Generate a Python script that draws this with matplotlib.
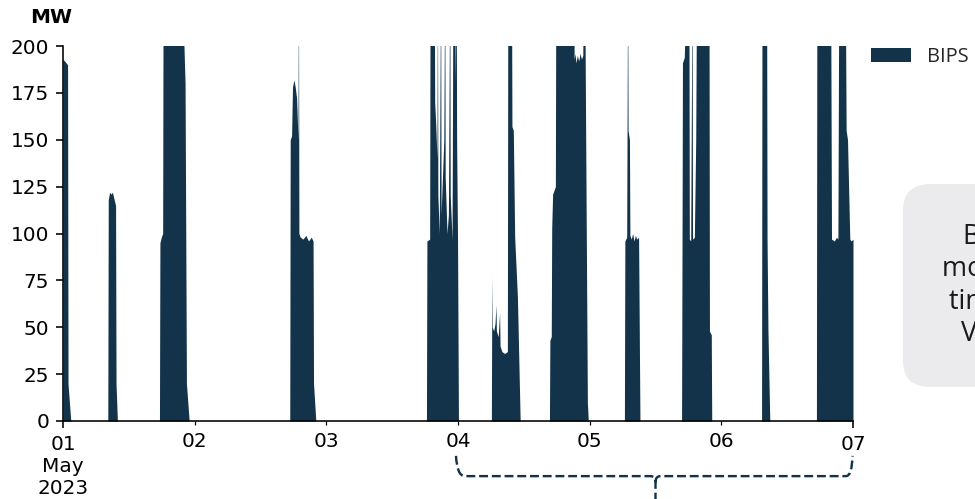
import numpy as np
import matplotlib
matplotlib.use("Agg")
import matplotlib.pyplot as plt
import matplotlib.dates as mdates
from matplotlib.path import Path
from matplotlib.patches import PathPatch
from matplotlib.transforms import blended_transform_factory

# BIPS output (MW), 1-7 May 2023
timestamps = [
    # 1 May
    "2023-05-01 00:00", "2023-05-01 00:50", "2023-05-01 00:55", "2023-05-01 01:25",
    "2023-05-01 08:10", "2023-05-01 08:15", "2023-05-01 08:30", "2023-05-01 08:45",
    "2023-05-01 09:00", "2023-05-01 09:15", "2023-05-01 09:35", "2023-05-01 09:40",
    "2023-05-01 09:55",
    "2023-05-01 17:35", "2023-05-01 17:40", "2023-05-01 17:55", "2023-05-01 18:10",
    "2023-05-01 18:15", "2023-05-01 21:50", "2023-05-01 22:00", "2023-05-01 22:15",
    "2023-05-01 22:30", "2023-05-01 23:00",
    # 2 May
    "2023-05-02 17:20", "2023-05-02 17:25", "2023-05-02 17:40", "2023-05-02 17:50",
    "2023-05-02 18:05", "2023-05-02 18:20", "2023-05-02 18:35", "2023-05-02 18:50",
    "2023-05-02 18:55", "2023-05-02 19:00", "2023-05-02 19:15", "2023-05-02 19:45",
    "2023-05-02 20:15", "2023-05-02 20:45", "2023-05-02 21:15", "2023-05-02 21:35",
    "2023-05-02 21:40", "2023-05-02 22:05",
    # 3 May
    "2023-05-03 18:15", "2023-05-03 18:20", "2023-05-03 18:50", "2023-05-03 18:55",
    "2023-05-03 19:40", "2023-05-03 19:45", "2023-05-03 19:55", "2023-05-03 20:10",
    "2023-05-03 20:15", "2023-05-03 20:20", "2023-05-03 20:35", "2023-05-03 20:50",
    "2023-05-03 20:55", "2023-05-03 21:10", "2023-05-03 21:25", "2023-05-03 21:35",
    "2023-05-03 21:40", "2023-05-03 22:00", "2023-05-03 22:15", "2023-05-03 22:30",
    "2023-05-03 22:35", "2023-05-03 22:55", "2023-05-03 23:05", "2023-05-03 23:25",
    "2023-05-03 23:30", "2023-05-03 23:40", "2023-05-03 23:45", "2023-05-03 23:55",
    "2023-05-04 00:05",
    # 4 May
    "2023-05-04 06:05", "2023-05-04 06:10", "2023-05-04 06:15", "2023-05-04 06:30",
    "2023-05-04 06:45", "2023-05-04 06:55", "2023-05-04 07:00", "2023-05-04 07:20",
    "2023-05-04 07:35", "2023-05-04 07:40", "2023-05-04 08:00", "2023-05-04 08:30",
    "2023-05-04 09:00", "2023-05-04 09:05", "2023-05-04 09:45", "2023-05-04 09:50",
    "2023-05-04 10:05", "2023-05-04 10:20", "2023-05-04 10:50", "2023-05-04 11:20",
    "2023-05-04 16:40", "2023-05-04 16:45", "2023-05-04 17:00", "2023-05-04 17:05",
    "2023-05-04 17:15", "2023-05-04 17:45", "2023-05-04 17:50", "2023-05-04 21:05",
    "2023-05-04 21:10", "2023-05-04 21:20", "2023-05-04 21:30", "2023-05-04 21:45",
    "2023-05-04 22:00", "2023-05-04 22:15", "2023-05-04 22:30", "2023-05-04 22:45",
    "2023-05-04 22:50", "2023-05-04 23:05", "2023-05-04 23:35", "2023-05-04 23:45",
    # 5 May
    "2023-05-05 06:20", "2023-05-05 06:25", "2023-05-05 06:45", "2023-05-05 06:55",
    "2023-05-05 07:00", "2023-05-05 07:15", "2023-05-05 07:20", "2023-05-05 07:35",
    "2023-05-05 07:50", "2023-05-05 08:05", "2023-05-05 08:20", "2023-05-05 08:35",
    "2023-05-05 08:55", "2023-05-05 09:10",
    "2023-05-05 16:45", "2023-05-05 16:50", "2023-05-05 16:55", "2023-05-05 17:15",
    "2023-05-05 17:40", "2023-05-05 18:05", "2023-05-05 18:10", "2023-05-05 18:25",
    "2023-05-05 18:40", "2023-05-05 18:45", "2023-05-05 19:05", "2023-05-05 19:20",
    "2023-05-05 19:30", "2023-05-05 21:45", "2023-05-05 21:50", "2023-05-05 22:10",
    "2023-05-05 22:15",
    # 6 May
    "2023-05-06 07:20", "2023-05-06 07:25", "2023-05-06 08:15", "2023-05-06 08:20",
    "2023-05-06 08:30", "2023-05-06 08:50",
    "2023-05-06 17:20", "2023-05-06 17:25", "2023-05-06 19:55", "2023-05-06 20:05",
    "2023-05-06 20:35", "2023-05-06 21:00", "2023-05-06 21:15", "2023-05-06 21:25",
    "2023-05-06 22:35", "2023-05-06 22:45", "2023-05-06 23:00", "2023-05-06 23:25",
    "2023-05-06 23:40", "2023-05-07 00:00",
]

bips_mw = [
    # 1 May
    193, 190, 20, 0,
    0, 118, 122, 121,
    122, 119, 115, 20,
    0,
    0, 95, 98, 100,
    240, 240, 205, 180,
    20, 0,
    # 2 May
    0, 150, 152, 178,
    182, 178, 172, 150,
    240, 100, 98, 97,
    99, 96, 98, 96,
    20, 0,
    # 3 May
    0, 96, 97, 240,
    240, 170, 160, 140,
    240, 120, 100, 240,
    110, 130, 150, 240,
    130, 100, 110, 240,
    120, 97, 240, 240,
    180, 240, 150, 96,
    0,
    # 4 May
    0, 77, 50, 48,
    52, 62, 48, 45,
    58, 40, 37, 36,
    37, 240, 240, 157,
    155, 98, 66, 0,
    0, 43, 45, 103,
    121, 125, 240, 240,
    193, 196, 191, 195,
    192, 196, 193, 195,
    240, 240, 10, 0,
    # 5 May
    0, 96, 98, 240,
    155, 150, 99, 97,
    100, 96, 99, 97,
    98, 0,
    0, 90, 191, 194,
    240, 240, 97, 96,
    240, 97, 98, 150,
    240, 240, 48, 46,
    0,
    # 6 May
    0, 240, 240, 97,
    48, 0,
    0, 240, 240, 97,
    96, 98, 97, 240,
    240, 155, 150, 97,
    96, 97,
]

series_name = "BIPS"
y_ticks = [0, 25, 50, 75, 100, 125, 150, 175, 200]
major_days = ["2023-05-01", "2023-05-07"]
major_labels = ["01\nMay\n2023", "07"]
minor_days = ["2023-05-02", "2023-05-03", "2023-05-04", "2023-05-05", "2023-05-06"]
minor_labels = ["02", "03", "04", "05", "06"]
bracket_span = ["2023-05-04", "2023-05-07"]
note_text = "BIPS ran\nmore often,\ntimed with\nVPP calls"

NAVY = "#12334a"

t = mdates.date2num(np.array(timestamps, dtype="datetime64[m]"))
y = np.array(bips_mw, dtype=float)

fig = plt.figure(figsize=(975 / 144, 499 / 144), dpi=144)
ax = fig.add_axes([63 / 975, 1 - 421 / 499, 790 / 975, 375 / 499])

ax.fill_between(t, y, 0, color=NAVY, linewidth=0, label=series_name)

ax.set_xlim(mdates.date2num(np.datetime64("2023-05-01T00:00")),
            mdates.date2num(np.datetime64("2023-05-07T00:00")))
ax.set_ylim(0, 200)
ax.set_yticks(y_ticks)

ax.set_xticks(mdates.date2num(np.array(major_days, dtype="datetime64[D]")))
ax.set_xticklabels(major_labels)
ax.set_xticks(mdates.date2num(np.array(minor_days, dtype="datetime64[D]")), minor=True)
ax.set_xticklabels(minor_labels, minor=True)

for side in ("top", "right"):
    ax.spines[side].set_visible(False)

ax.text(-0.015, 1.077, "MW", transform=ax.transAxes, ha="center", va="center",
        fontsize=10, fontweight="bold")

ax.legend(loc="upper left", bbox_to_anchor=(1.0, 1.045), frameon=False,
          prop={"family": "Open Sans", "size": 10}, labelcolor="#262626")

# dashed curly bracket under the 4-7 May period
x0, x1 = mdates.date2num(np.array(bracket_span, dtype="datetime64[D]"))
xm = (x0 + x1) / 2
dx = 1 / 131.67  # one pixel in days
top, mid, knot, tail = -0.093, -0.147, -0.163, -0.22
verts = [
    (x0 - 2 * dx, top), (x0 - 1 * dx, mid), (x0 + 7 * dx, mid),
    (xm - 5 * dx, mid), (xm, mid), (xm, knot),
    (xm, tail),
    (xm, knot), (xm, mid), (xm + 5 * dx, mid),
    (x1 - 7 * dx, mid), (x1 - 1 * dx, mid), (x1 - 0.5 * dx, top),
]
codes = [
    Path.MOVETO, Path.CURVE3, Path.CURVE3,
    Path.LINETO, Path.CURVE3, Path.CURVE3,
    Path.LINETO,
    Path.MOVETO, Path.CURVE3, Path.CURVE3,
    Path.LINETO, Path.CURVE3, Path.CURVE3,
]
trans = blended_transform_factory(ax.transData, ax.transAxes)
bracket = PathPatch(Path(verts, codes), transform=trans, fill=False,
                    edgecolor=NAVY, linewidth=1.2, linestyle="--", clip_on=False)
ax.add_patch(bracket)

fig.text(1016 / 975, 1 - 285.5 / 499, note_text, ha="center", va="center",
         multialignment="center", fontsize=13.5, family="Open Sans", color="#1a1a1a",
         bbox=dict(boxstyle="round,pad=1.45,rounding_size=1.0",
                   facecolor="#ebebed", edgecolor="none"))

fig.savefig("out.png", dpi=144)
